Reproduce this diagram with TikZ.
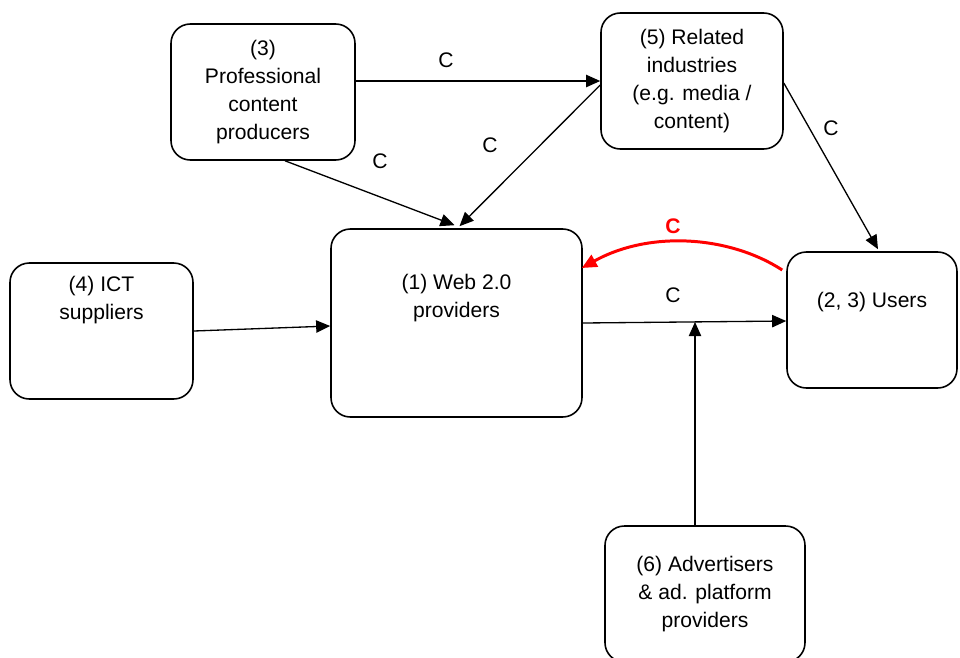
\documentclass[tikz,border=0pt]{standalone}
\usepackage{fontspec}
\setmainfont{Liberation Sans}
\usetikzlibrary{calc,positioning,arrows.meta}

\begin{document}
\begin{tikzpicture}[
  x=0.02cm,y=-0.02cm,
  font=\fontsize{12}{15.9}\selectfont,
  >={Triangle[length=8pt,width=7pt]},
  actor/.style={rounded corners=11pt, draw=black, line width=0.9pt, fill=white,
                minimum height=136*0.02cm, align=center, inner sep=0pt},
  flow/.style={->, draw=black, line width=0.75pt},
  cash/.style={->, draw=red, line width=1.7pt, >={Triangle[length=8.5pt,width=7.5pt]}},
  tag/.style={inner sep=1pt}
]
  \useasboundingbox (0,0) rectangle (960,657);

  % actors
  \node[actor, minimum width=184*0.02cm] (prof) at (263,92)
    {(3)\\Professional\\content\\producers};
  \node[actor, minimum width=182*0.02cm] (rel) at (692,81)
    {(5) Related\\industries\\(e.g. media /\\content)};
  \node[actor, minimum width=183*0.02cm] (ict) at (101.5,331) {};
  \node[align=center] (icttxt) at (101.5,300) {(4) ICT\\suppliers};
  \node[actor, minimum width=251*0.02cm, minimum height=188*0.02cm] (web) at (456.5,323) {};
  \node[align=center] (webtxt) at (456.5,298) {(1) Web 2.0\\providers};
  \node[actor, minimum width=170*0.02cm] (users) at (872,320) {};
  \node[align=center] (userstxt) at (872,302) {(2, 3) Users};
  \node[actor, minimum width=200*0.02cm] (adv) at (705,594)
    {(6) Advertisers\\\& ad. platform\\providers};

  % flows
  \coordinate (hit) at (695,322);
  \draw[flow] ($(prof.east)+(0,-11)$) -- ($(rel.west)+(0,0)$);
  \draw[flow] ($(prof.south)+(22,0)$) -- ($(web.north)+(-2,-3)$);
  \draw[flow] ($(rel.west)+(0,4)$) -- ($(web.north)+(3,-2)$);
  \draw[flow] ($(rel.east)+(0,2)$) -- ($(users.north)+(6,-2)$);
  \draw[flow] ($(ict.east)+(0,0)$) -- ($(web.west)+(0,3)$);
  \draw[flow] ($(web.east)+(0,0)$) -- ($(users.west)+(0,1)$);
  \draw[flow] ($(adv.north)+(-10,0)$) -- (hit);
  \draw[cash] ($(users.west)+(-4,-50)$) .. controls (730,236) and (650,230) .. ($(web.east)+(-1,-55)$);

  % labels
  \node[tag] (c1) at (446,60) {C};
  \node[tag] (c2) at (380,161) {C};
  \node[tag] (c3) at (490,145) {C};
  \node[tag] (c4) at (831,128) {C};
  \node[tag] (c5) at (673,295) {C};
  \node[tag, text=red, font=\fontsize{12}{15.9}\selectfont\bfseries] (c6) at (673,226) {C};
\end{tikzpicture}
\end{document}
